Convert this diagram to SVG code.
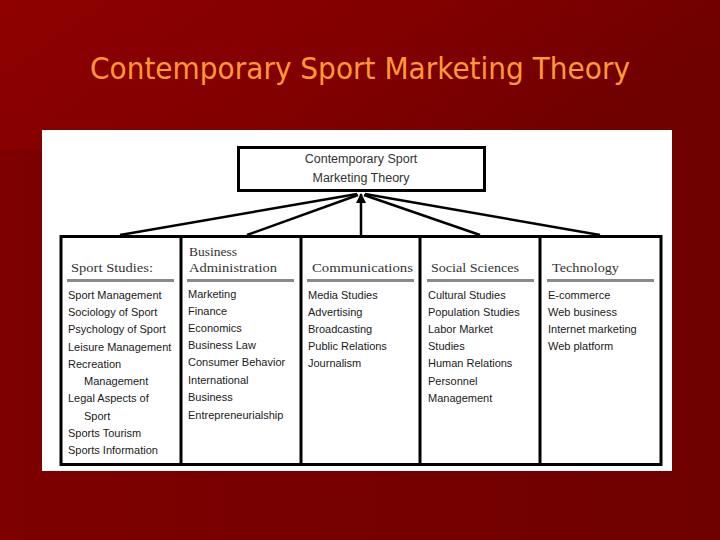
<svg xmlns="http://www.w3.org/2000/svg" width="720" height="540" viewBox="0 0 720 540">
<defs>
<linearGradient id="bgTop" x1="0" y1="0" x2="1" y2="0.3">
<stop offset="0" stop-color="#8e0000"/>
<stop offset="0.55" stop-color="#820000"/>
<stop offset="1" stop-color="#6f0000"/>
</linearGradient>
<linearGradient id="bgLow" x1="0" y1="0" x2="1" y2="0">
<stop offset="0" stop-color="#7e0000"/>
<stop offset="1" stop-color="#6f0000"/>
</linearGradient>
<marker id="arr" viewBox="0 0 10 10" refX="9" refY="5" markerWidth="4" markerHeight="4" orient="auto" markerUnits="strokeWidth">
<path d="M0,0 L10,5 L0,10 z" fill="#000"/>
</marker>
<style>
.title{font-family:"DejaVu Sans","Liberation Sans",sans-serif;font-size:30px;fill:#ff9a33}
.box{fill:#fff;stroke:#000;stroke-width:3}
.tb{font-family:"Liberation Sans",Arial,sans-serif;font-size:12.5px;fill:#333;text-anchor:middle}
.hd{font-family:"Liberation Serif","Times New Roman",serif;font-size:13.5px;fill:#333}
.it{font-family:"Liberation Sans",Arial,sans-serif;font-size:11px;fill:#1a1a1a}
.rule{fill:#8a8a8a}
.conn{stroke:#000;stroke-width:2.5;fill:none}
</style>
</defs>
<rect x="0" y="0" width="720" height="540" fill="#6f0000"/>
<rect x="0" y="0" width="720" height="150" fill="url(#bgTop)"/>
<path d="M0,150 L720,140 L720,540 L0,540 z" fill="url(#bgLow)"/>
<text class="title" x="360" y="79" text-anchor="middle" textLength="540" lengthAdjust="spacingAndGlyphs">Contemporary Sport Marketing Theory</text>
<rect x="42" y="130" width="630" height="341" fill="#fff"/>

<g id="connectors">
<line class="conn" x1="120" y1="235" x2="357" y2="194"/>
<line class="conn" x1="247" y1="235" x2="358" y2="195"/>
<line class="conn" x1="480" y1="235" x2="364" y2="195"/>
<line class="conn" x1="600" y1="235" x2="365" y2="194"/>
<line class="conn" x1="361" y1="236" x2="361" y2="194" marker-end="url(#arr)"/>
</g>

<g id="root">
<rect class="box" x="238.5" y="147.5" width="246" height="43"/>
<text class="tb" x="361" y="163">Contemporary Sport</text>
<text class="tb" x="361" y="182">Marketing Theory</text>
</g>

<g id="table">
<rect x="61" y="236.5" width="600" height="228" fill="#fff" stroke="#000" stroke-width="3"/>
</g>

<g id="sport-studies">
<text class="hd" x="71" y="272" textLength="82" lengthAdjust="spacingAndGlyphs">Sport Studies:</text>
<rect class="rule" x="67" y="279" width="107" height="3"/>
<text class="it" x="68" y="299">Sport Management</text>
<text class="it" x="68" y="316">Sociology of Sport</text>
<text class="it" x="68" y="333">Psychology of Sport</text>
<text class="it" x="68" y="351">Leisure Management</text>
<text class="it" x="68" y="368">Recreation</text>
<text class="it" x="84" y="385">Management</text>
<text class="it" x="68" y="402">Legal Aspects of</text>
<text class="it" x="84" y="420">Sport</text>
<text class="it" x="68" y="437">Sports Tourism</text>
<text class="it" x="68" y="454">Sports Information</text>
</g>

<g id="business-administration">
<line x1="181" y1="236" x2="181" y2="464" stroke="#000" stroke-width="3"/>
<text class="hd" x="189" y="256">Business</text>
<text class="hd" x="189" y="272" textLength="88" lengthAdjust="spacingAndGlyphs">Administration</text>
<rect class="rule" x="187" y="279" width="107" height="3"/>
<text class="it" x="188" y="298">Marketing</text>
<text class="it" x="188" y="315">Finance</text>
<text class="it" x="188" y="332">Economics</text>
<text class="it" x="188" y="349">Business Law</text>
<text class="it" x="188" y="366">Consumer Behavior</text>
<text class="it" x="188" y="384">International</text>
<text class="it" x="188" y="401">Business</text>
<text class="it" x="188" y="419">Entrepreneurialship</text>
</g>

<g id="communications">
<line x1="301" y1="236" x2="301" y2="464" stroke="#000" stroke-width="3"/>
<text class="hd" x="312" y="272" textLength="101" lengthAdjust="spacingAndGlyphs">Communications</text>
<rect class="rule" x="307" y="279" width="107" height="3"/>
<text class="it" x="308" y="299">Media Studies</text>
<text class="it" x="308" y="316">Advertising</text>
<text class="it" x="308" y="333">Broadcasting</text>
<text class="it" x="308" y="350">Public Relations</text>
<text class="it" x="308" y="367">Journalism</text>
</g>

<g id="social-sciences">
<line x1="420" y1="236" x2="420" y2="464" stroke="#000" stroke-width="3"/>
<text class="hd" x="431" y="272" textLength="88" lengthAdjust="spacingAndGlyphs">Social Sciences</text>
<rect class="rule" x="427" y="279" width="107" height="3"/>
<text class="it" x="428" y="299">Cultural Studies</text>
<text class="it" x="428" y="316">Population Studies</text>
<text class="it" x="428" y="333">Labor Market</text>
<text class="it" x="428" y="350">Studies</text>
<text class="it" x="428" y="367">Human Relations</text>
<text class="it" x="428" y="385">Personnel</text>
<text class="it" x="428" y="402">Management</text>
</g>

<g id="technology">
<line x1="540" y1="236" x2="540" y2="464" stroke="#000" stroke-width="3"/>
<text class="hd" x="552" y="272" textLength="67" lengthAdjust="spacingAndGlyphs">Technology</text>
<rect class="rule" x="547" y="279" width="107" height="3"/>
<text class="it" x="548" y="299">E-commerce</text>
<text class="it" x="548" y="316">Web business</text>
<text class="it" x="548" y="333">Internet marketing</text>
<text class="it" x="548" y="350">Web platform</text>
</g>
</svg>
